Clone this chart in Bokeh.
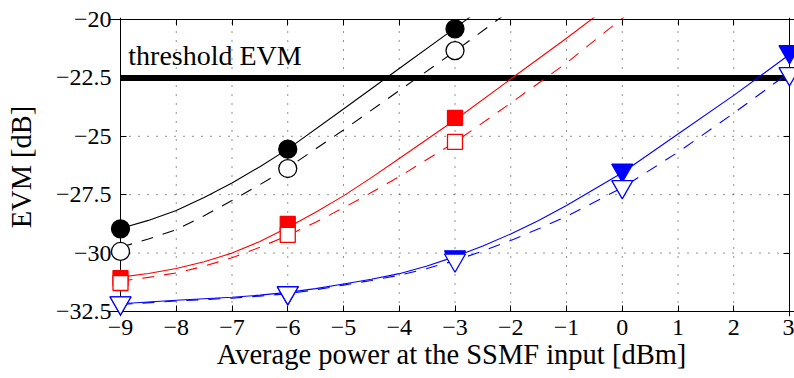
from bokeh.plotting import figure
from bokeh.models import Range1d, FixedTicker, LinearAxis, Label
from bokeh.embed import file_html
from bokeh.resources import INLINE

# ---- data ----
x_min, x_max = -9, 3
y_min, y_max = -32.5, -20
x_ticks = [-9, -8, -7, -6, -5, -4, -3, -2, -1, 0, 1, 2, 3]
x_tick_labels = ["−9", "−8", "−7", "−6", "−5", "−4", "−3", "−2", "−1", "0", "1", "2", "3"]
y_ticks = [-32.5, -30, -27.5, -25, -22.5, -20]
y_tick_labels = ["−32.5", "−30", "−27.5", "−25", "−22.5", "−20"]

threshold_evm = -22.5
threshold_text = "threshold EVM"

# measured points
black_x = [-9, -6, -3]
black_filled = [-28.96, -25.55, -20.40]
black_open = [-29.93, -26.38, -21.33]

red_x = [-9, -6, -3]
red_filled = [-31.07, -28.75, -24.21]
red_open = [-31.28, -29.22, -25.24]

blue_x = [-9, -6, -3, 0, 3]
blue_filled = [-32.13, -31.70, -30.16, -26.45, -21.38]
blue_open = [-32.13, -31.70, -30.30, -27.16, -22.32]

# fitted curves
black_fit_x = [-9, -8.5, -8, -7.5, -7, -6.5, -6, -5, -4, -3, -2]
black_fit_solid = [-28.95, -28.60, -28.18, -27.62, -27.00, -26.30, -25.55, -23.83, -22.10, -20.37, -18.60]
black_fit_dash = [-29.75, -29.40, -29.00, -28.40, -27.75, -27.07, -26.35, -24.73, -23.04, -21.36, -19.60]

red_fit_x = [-9, -8.5, -8, -7.5, -7, -6.5, -6, -5.5, -5, -4.5, -4, -3, -2, -1, 0, 1]
red_fit_solid = [-31.03, -30.87, -30.66, -30.37, -30.00, -29.50, -28.90, -28.25, -27.55, -26.77,
                 -25.95, -24.30, -22.55, -20.80, -19.00, -17.20]
red_fit_dash = [-31.20, -31.04, -30.85, -30.56, -30.20, -29.75, -29.25, -28.68, -28.06, -27.41,
                -26.73, -25.25, -23.58, -21.86, -19.95, -18.10]

blue_fit_x = [-9, -8, -7, -6.5, -6, -5.5, -5, -4.5, -4, -3.5, -3, -2.5, -2, -1.5, -1, 0, 1, 2, 3]
blue_fit_solid = [-32.17, -32.02, -31.89, -31.80, -31.68, -31.52, -31.32, -31.12, -30.88, -30.55,
                  -30.15, -29.70, -29.18, -28.60, -27.96, -26.56, -24.90, -23.25, -21.50]
blue_fit_dash = [-32.20, -32.05, -31.93, -31.84, -31.74, -31.57, -31.37, -31.17, -30.95, -30.66,
                 -30.32, -29.91, -29.46, -28.96, -28.43, -27.20, -25.68, -24.01, -22.26]

FONT = "Liberation Serif"

# pixel layout: axes box x=120..789, y=19..311; the frame is a little larger so edge markers are not cut
W, H = 794, 378
box_l, box_r, box_t, box_b = 120, 789, 19, 311
frame_l, frame_r, frame_t, frame_b = 108, 794, 17, 316
sx = (box_r - box_l) / (x_max - x_min)
sy = (box_b - box_t) / (y_max - y_min)
xr = Range1d(x_min - (box_l - frame_l) / sx, x_max + (frame_r - box_r) / sx)
yr = Range1d(y_min - (frame_b - box_b) / sy, y_max + (box_t - frame_t) / sy)

p = figure(width=W, height=H, output_backend="svg", toolbar_location=None,
           x_range=xr, y_range=yr,
           min_border_left=frame_l, min_border_right=W - frame_r,
           min_border_top=frame_t, min_border_bottom=H - frame_b,
           x_axis_label="Average power at the SSMF input [dBm]", y_axis_label="EVM [dB]")
p.background_fill_color = "white"
p.border_fill_color = "white"
p.outline_line_color = None
p.xgrid.visible = False
p.ygrid.visible = False

# label-carrying axes in the side panels (their lines/ticks hidden)
xa, ya = p.xaxis[0], p.yaxis[0]
for ax, ticks, labels in ((xa, x_ticks, x_tick_labels), (ya, y_ticks, y_tick_labels)):
    ax.ticker = FixedTicker(ticks=ticks)
    ax.major_label_overrides = {float(t): l for t, l in zip(ticks, labels)}
    ax.major_label_text_font = FONT
    ax.major_label_text_font_size = "24px"
    ax.major_label_text_color = "black"
    ax.axis_label_text_font = FONT
    ax.axis_label_text_font_size = "28.5px"
    ax.axis_label_text_font_style = "normal"
    ax.axis_label_text_color = "black"
    ax.major_tick_in = 0
    ax.major_tick_out = 0
    ax.minor_tick_line_color = None
    ax.axis_line_color = None
    ax.major_tick_line_color = None

xa.major_label_standoff = 8 - (frame_b - box_b)
xa.axis_label_standoff = 1
ya.major_label_standoff = 9 - (box_l - frame_l)
ya.axis_label_standoff = 16

# axes box with inward ticks on all four sides
for loc, ticks, fixed in (("left", y_ticks, x_min), ("below", x_ticks, y_min),
                          ("right", y_ticks, x_max), ("above", x_ticks, y_max)):
    ax = LinearAxis(ticker=FixedTicker(ticks=ticks), fixed_location=fixed)
    ax.major_label_text_font_size = "0px"
    ax.major_label_text_alpha = 0
    ax.major_label_standoff = 0
    ax.major_tick_in = 6
    ax.major_tick_out = 0
    ax.minor_tick_line_color = None
    ax.axis_line_color = "black"
    ax.major_tick_line_color = "black"
    p.add_layout(ax, loc)

# dotted grid limited to the axes box
GRID_DASH = "1 8"
p.segment(x0=x_ticks, x1=x_ticks, y0=[y_min] * len(x_ticks), y1=[y_max] * len(x_ticks),
          line_color="black", line_alpha=0.85, line_width=1, line_dash=GRID_DASH)
p.segment(x0=[x_min] * len(y_ticks), x1=[x_max] * len(y_ticks), y0=y_ticks, y1=y_ticks,
          line_color="black", line_alpha=0.85, line_width=1, line_dash=GRID_DASH)

# threshold line and label
p.line([x_min, x_max], [threshold_evm, threshold_evm], line_color="black", line_width=6)
p.add_layout(Label(x=-8.86, y=-21.55, text=threshold_text, text_font=FONT,
                   text_font_size="28px", text_color="black", text_baseline="alphabetic"))

# fit curves
DASH = "12 10"
for fx, solid, dash, col in ((black_fit_x, black_fit_solid, black_fit_dash, "black"),
                              (red_fit_x, red_fit_solid, red_fit_dash, "red"),
                              (blue_fit_x, blue_fit_solid, blue_fit_dash, "blue")):
    p.line(fx, solid, line_color=col, line_width=1.1)
    p.line(fx, dash, line_color=col, line_width=1.1, line_dash=DASH)

# markers: filled then open (white fill) on top, above the axes
mk = []
mk.append(p.scatter(black_x, black_filled, marker="circle", size=18, fill_color="black", line_color="black", line_width=1.3))
mk.append(p.scatter(red_x, red_filled, marker="square", size=15, fill_color="red", line_color="red", line_width=1.3))
mk.append(p.scatter(blue_x, blue_filled, marker="inverted_triangle", size=21, fill_color="blue", line_color="blue", line_width=1.3))
mk.append(p.scatter(black_x, black_open, marker="circle", size=18, fill_color="white", line_color="black", line_width=1.3))
mk.append(p.scatter(red_x, red_open, marker="square", size=15, fill_color="white", line_color="red", line_width=1.3))
mk.append(p.scatter(blue_x, blue_open, marker="inverted_triangle", size=21, fill_color="white", line_color="blue", line_width=1.3))
for r in mk:
    r.level = "overlay"

open("out.html", "w").write(file_html(p, INLINE))
